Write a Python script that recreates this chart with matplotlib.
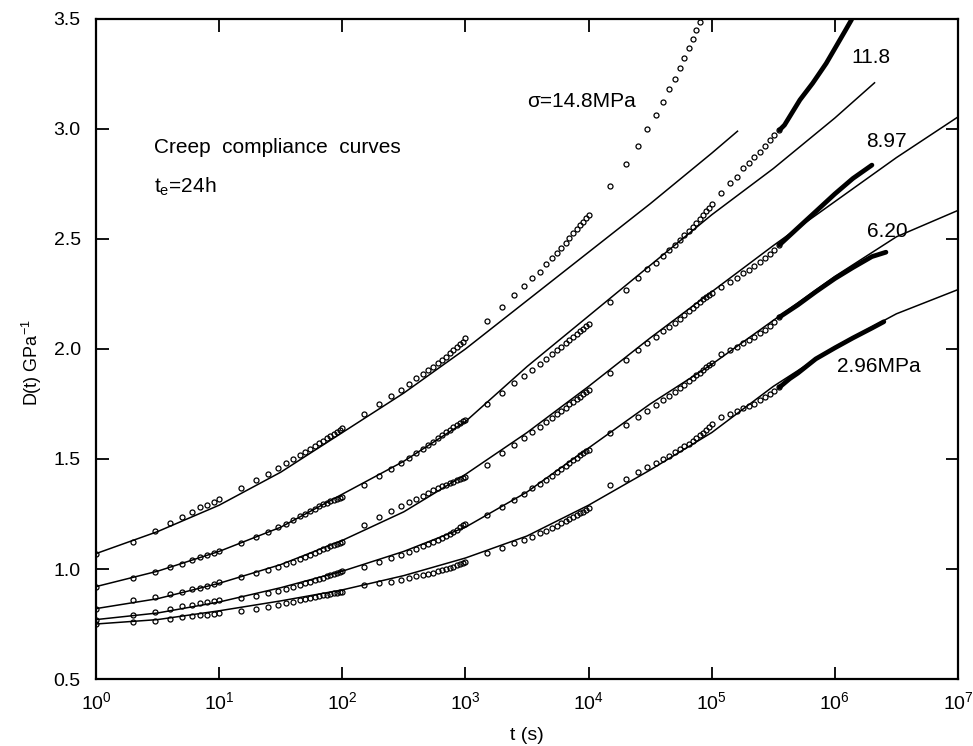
import matplotlib
matplotlib.use("Agg")
import matplotlib.pyplot as plt
from matplotlib.ticker import FormatStrFormatter, NullLocator

plt.rcParams['font.family'] = ['Liberation Sans', 'DejaVu Sans']
plt.rcParams['mathtext.fontset'] = 'custom'
plt.rcParams['mathtext.rm'] = 'Liberation Sans'
plt.rcParams['mathtext.it'] = 'Liberation Sans:italic'
plt.rcParams['mathtext.default'] = 'regular'

# measurement times, one test segment per decade
T1 = [1, 2, 3, 4, 5, 6, 7, 8, 9, 10]
T2 = [15, 20, 25, 30, 35, 40, 45, 50, 55, 60, 65, 70, 75, 80, 85, 90, 95, 100]
T3 = [150, 200, 250, 300, 350, 400, 450, 500, 550, 600, 650, 700, 750, 800,
      850, 900, 950, 1000]
T4 = [1500, 2000, 2500, 3000, 3500, 4000, 4500, 5000, 5500, 6000, 6500, 7000,
      7500, 8000, 8500, 9000, 9500, 10000]
T5 = [15000, 20000, 25000, 30000, 35000, 40000, 45000, 50000, 55000, 60000,
      65000, 70000, 75000, 80000, 85000, 90000, 95000, 100000]
T6 = [1.2e5, 1.4e5, 1.6e5, 1.8e5, 2.0e5, 2.2e5, 2.45e5, 2.7e5, 2.95e5, 3.2e5, 3.55e5]

t_all = T1 + T2 + T3 + T4 + T5 + T6
t_148 = T1 + T2 + T3 + T4 + T5[:14]

# creep compliance data, GPa^-1
D296 = [0.75, 0.76, 0.765, 0.773, 0.78, 0.785, 0.79, 0.793, 0.797, 0.80,
        0.81, 0.818, 0.829, 0.836, 0.845, 0.852, 0.858, 0.863, 0.868, 0.872, 0.876, 0.88,
        0.883, 0.886, 0.889, 0.892, 0.895, 0.897,
        0.927, 0.935, 0.942, 0.95, 0.958, 0.966, 0.972, 0.978, 0.984, 0.99, 0.995, 1.00,
        1.005, 1.01, 1.016, 1.022, 1.028, 1.033,
        1.071, 1.094, 1.117, 1.132, 1.147, 1.162, 1.174, 1.186, 1.197, 1.208, 1.218, 1.228,
        1.237, 1.245, 1.253, 1.261, 1.269, 1.276,
        1.382, 1.41, 1.44, 1.462, 1.482, 1.50, 1.515, 1.53, 1.544, 1.557, 1.57, 1.582,
        1.595, 1.607, 1.619, 1.631, 1.645, 1.66,
        1.692, 1.705, 1.717, 1.73, 1.74, 1.75, 1.766, 1.78, 1.795, 1.808, 1.826]
D620 = [0.77, 0.791, 0.806, 0.82, 0.83, 0.838, 0.845, 0.851, 0.856, 0.86,
        0.867, 0.877, 0.89, 0.90, 0.91, 0.92, 0.928, 0.935, 0.942, 0.949, 0.955, 0.961,
        0.967, 0.972, 0.977, 0.982, 0.987, 0.992,
        1.01, 1.033, 1.048, 1.064, 1.079, 1.091, 1.103, 1.114, 1.124, 1.134, 1.143, 1.152,
        1.161, 1.169, 1.177, 1.192, 1.199, 1.205,
        1.245, 1.283, 1.314, 1.342, 1.366, 1.387, 1.406, 1.423, 1.439, 1.454, 1.468, 1.481,
        1.494, 1.506, 1.517, 1.527, 1.535, 1.541,
        1.617, 1.655, 1.69, 1.72, 1.745, 1.768, 1.787, 1.805, 1.822, 1.838, 1.853, 1.867,
        1.88, 1.893, 1.905, 1.916, 1.926, 1.935,
        1.975, 1.995, 2.01, 2.026, 2.041, 2.056, 2.071, 2.086, 2.105, 2.124, 2.145]
D897 = [0.82, 0.859, 0.873, 0.885, 0.897, 0.907, 0.915, 0.923, 0.93, 0.94,
        0.962, 0.98, 0.995, 1.009, 1.022, 1.034, 1.045, 1.055, 1.064, 1.073, 1.081, 1.089,
        1.096, 1.103, 1.109, 1.115, 1.12, 1.125,
        1.20, 1.235, 1.262, 1.285, 1.304, 1.32, 1.334, 1.346, 1.357, 1.367, 1.376, 1.384,
        1.391, 1.397, 1.403, 1.408, 1.412, 1.416,
        1.473, 1.526, 1.565, 1.597, 1.623, 1.646, 1.667, 1.686, 1.703, 1.719, 1.734, 1.748,
        1.761, 1.773, 1.784, 1.795, 1.805, 1.814,
        1.889, 1.95, 1.995, 2.026, 2.056, 2.08, 2.10, 2.12, 2.138, 2.155, 2.171, 2.186,
        2.20, 2.213, 2.225, 2.236, 2.245, 2.253,
        2.283, 2.306, 2.321, 2.344, 2.359, 2.377, 2.397, 2.412, 2.432, 2.45, 2.473]
D118 = [0.92, 0.958, 0.988, 1.01, 1.024, 1.039, 1.053, 1.065, 1.073, 1.083,
        1.117, 1.147, 1.167, 1.189, 1.205, 1.224, 1.239, 1.252, 1.264, 1.275, 1.285, 1.294,
        1.302, 1.309, 1.315, 1.32, 1.325, 1.329,
        1.382, 1.423, 1.455, 1.482, 1.506, 1.527, 1.546, 1.563, 1.579, 1.594, 1.608, 1.621,
        1.633, 1.644, 1.654, 1.663, 1.671, 1.677,
        1.75, 1.80, 1.847, 1.877, 1.906, 1.932, 1.955, 1.975, 1.994, 2.011, 2.027, 2.042,
        2.056, 2.069, 2.081, 2.093, 2.104, 2.114,
        2.215, 2.268, 2.321, 2.362, 2.392, 2.423, 2.45, 2.474, 2.496, 2.517, 2.537, 2.556,
        2.574, 2.591, 2.608, 2.625, 2.642, 2.659,
        2.71, 2.756, 2.783, 2.821, 2.844, 2.874, 2.897, 2.923, 2.95, 2.973, 2.995]
D148 = [1.07, 1.124, 1.174, 1.208, 1.238, 1.26, 1.28, 1.29, 1.305, 1.32,
        1.367, 1.405, 1.432, 1.458, 1.48, 1.50, 1.518, 1.533, 1.547, 1.56, 1.572, 1.583,
        1.594, 1.604, 1.614, 1.623, 1.632, 1.64,
        1.705, 1.75, 1.788, 1.814, 1.841, 1.867, 1.885, 1.905, 1.92, 1.935, 1.95, 1.965,
        1.98, 1.995, 2.008, 2.021, 2.033, 2.049,
        2.127, 2.19, 2.245, 2.286, 2.324, 2.351, 2.386, 2.415, 2.438, 2.458, 2.48, 2.503,
        2.526, 2.544, 2.562, 2.578, 2.594, 2.609,
        2.742, 2.841, 2.924, 2.999, 3.064, 3.121, 3.18, 3.227, 3.276, 3.324, 3.367, 3.408,
        3.45, 3.485]

# long-time data, sampled so densely that it prints as a solid band
t_dense_296 = [3.55e5, 4.3e5, 5e5, 7e5, 1e6, 1.4e6, 2e6, 2.5e6]
D_dense_296 = [1.826, 1.865, 1.89, 1.955, 2.005, 2.05, 2.095, 2.124]
t_dense_620 = [3.55e5, 5e5, 7e5, 1e6, 1.4e6, 2e6, 2.6e6]
D_dense_620 = [2.145, 2.20, 2.26, 2.32, 2.37, 2.42, 2.44]
t_dense_897 = [3.55e5, 5e5, 7e5, 1e6, 1.4e6, 2e6]
D_dense_897 = [2.473, 2.55, 2.625, 2.705, 2.775, 2.836]
t_dense_118 = [3.55e5, 3.9e5, 5.2e5, 6.6e5, 8.5e5, 1.02e6, 1.2e6, 1.36e6, 1.45e6]
D_dense_118 = [2.995, 3.018, 3.132, 3.208, 3.298, 3.374, 3.442, 3.495, 3.53]

# fitted curves, half-decade nodes
t_fit = [1, 3.162, 10, 31.62, 100, 316.2, 1000, 3162, 1e4, 3.162e4, 1e5, 3.162e5,
         1e6, 3.162e6, 1e7]
L296 = [0.75, 0.77, 0.81, 0.855, 0.905, 0.97, 1.05, 1.15, 1.29, 1.45, 1.62, 1.83,
        2.01, 2.16, 2.27]
L620 = [0.77, 0.80, 0.85, 0.915, 0.99, 1.08, 1.19, 1.35, 1.55, 1.75, 1.93, 2.13,
        2.33, 2.51, 2.63]
L897 = [0.82, 0.865, 0.935, 1.02, 1.13, 1.26, 1.43, 1.62, 1.83, 2.05, 2.26, 2.47,
        2.67, 2.87, 3.055]
t_fit_118 = [1, 3.162, 10, 31.62, 100, 316.2, 1000, 3162, 1e4, 3.162e4, 1e5, 3.162e5,
             1e6, 2.1e6]
L118 = [0.92, 0.99, 1.08, 1.19, 1.34, 1.49, 1.67, 1.92, 2.15, 2.38, 2.61, 2.82,
        3.05, 3.21]
t_fit_148 = [1, 3.162, 10, 31.62, 100, 316.2, 1000, 3162, 1e4, 3.162e4, 1e5, 1.62e5]
L148 = [1.07, 1.17, 1.29, 1.44, 1.62, 1.80, 2.00, 2.22, 2.44, 2.66, 2.89, 2.99]

x_ticks = [1, 10, 100, 1e3, 1e4, 1e5, 1e6, 1e7]
y_ticks = [0.5, 1.0, 1.5, 2.0, 2.5, 3.0, 3.5]

fig = plt.figure(figsize=(9.73, 7.46), dpi=100)
ax = fig.add_axes([96 / 973, 67 / 746, 862 / 973, 660 / 746])

for tf, lf in [(t_fit, L296), (t_fit, L620), (t_fit, L897),
               (t_fit_118, L118), (t_fit_148, L148)]:
    ax.plot(tf, lf, color='black', lw=1.1, zorder=2)

for tt, dd in [(t_all, D296), (t_all, D620), (t_all, D897),
               (t_all, D118), (t_148, D148)]:
    ax.plot(tt, dd, ls='none', marker='o', ms=3.6, mfc='none', mec='black',
            mew=0.9, zorder=3)

for tt, dd in [(t_dense_296, D_dense_296), (t_dense_620, D_dense_620),
               (t_dense_897, D_dense_897), (t_dense_118, D_dense_118)]:
    ax.plot(tt, dd, color='black', lw=3.4, solid_capstyle='round', zorder=3)

ax.set_xscale('log')
ax.set_xlim(1, 1e7)
ax.set_ylim(0.5, 3.5)
ax.set_xticks(x_ticks)
ax.set_yticks(y_ticks)
ax.xaxis.set_minor_locator(NullLocator())
ax.yaxis.set_minor_locator(NullLocator())
ax.yaxis.set_major_formatter(FormatStrFormatter('%.1f'))
ax.tick_params(axis='both', which='major', direction='in', length=9, width=1.3,
               top=True, right=True, labelsize=14)
ax.tick_params(axis='x', pad=9)
ax.tick_params(axis='y', pad=11)
for sp in ax.spines.values():
    sp.set_linewidth(1.6)

ax.set_xlabel('t (s)', fontsize=14)
ax.xaxis.set_label_coords(0.5, -0.085)
ax.xaxis.label.set_va('center')
ax.set_ylabel('D(t) GPa$^{-1}$', fontsize=13)
ax.yaxis.set_label_coords(-0.074, 0.48)
ax.yaxis.label.set_va('center')

ax.text(2.96, 2.918, 'Creep  compliance  curves', fontsize=15, va='center', ha='left')
ax.text(2.96, 2.736, 't$_e$=24h', fontsize=15, va='center', ha='left')
ax.text(3150, 3.123, '\u03c3=14.8MPa', fontsize=15, va='center', ha='left')
ax.text(1.37e6, 3.327, '11.8', fontsize=15, va='center', ha='left')
ax.text(1.81e6, 2.942, '8.97', fontsize=15, va='center', ha='left')
ax.text(1.81e6, 2.533, '6.20', fontsize=15, va='center', ha='left')
ax.text(1.05e6, 1.92, '2.96MPa', fontsize=15, va='center', ha='left')

fig.savefig('out.png', dpi=100)
